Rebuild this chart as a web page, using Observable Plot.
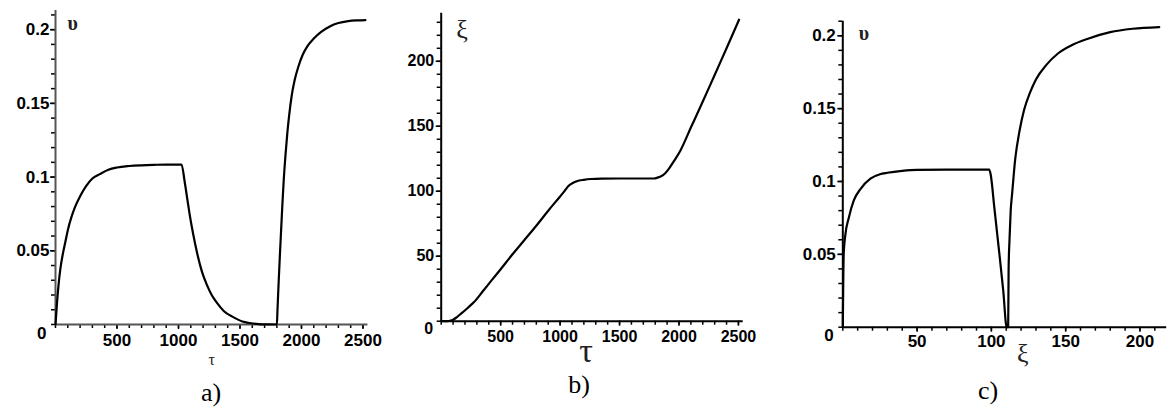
<!DOCTYPE html>
<html>
<head>
<meta charset="utf-8">
<script src="https://cdn.jsdelivr.net/npm/d3@7"></script>
<script src="https://cdn.jsdelivr.net/npm/@observablehq/plot@0.6"></script>
<style>
  html, body { margin: 0; padding: 0; background: #fff; }
  #wrap { position: relative; width: 1172px; height: 407px; overflow: hidden; background: #fff; }
  .panel { position: absolute; top: 0; }
  .cap { position: absolute; font-family: "Liberation Serif", "Times New Roman", serif; font-size: 26px; line-height: 26px; color: #000; transform: translateX(-50%); white-space: nowrap; }
</style>
</head>
<body>
<div id="wrap"></div>
<script>
// ---------- Panel a: υ(τ) ----------
const tauA = [0, 10, 25, 40, 60, 80, 100, 130, 160, 200, 250, 300, 360, 430, 500, 600, 700, 800, 900, 1000, 1025,
  1050, 1070, 1090, 1120, 1150, 1190, 1230, 1270, 1310, 1370, 1445, 1520, 1580, 1650, 1720, 1800,
  1805, 1815, 1825, 1835, 1845, 1855, 1870, 1885, 1900, 1920, 1945, 1975, 2010, 2050, 2100, 2160, 2230, 2300, 2380, 2460, 2520];
const upsA = [0, 0.012, 0.027, 0.038, 0.048, 0.056, 0.064, 0.073, 0.080, 0.087, 0.094, 0.099, 0.102, 0.105, 0.1065, 0.1075, 0.108, 0.1083, 0.1085, 0.1085, 0.1085,
  0.097, 0.086, 0.075, 0.061, 0.049, 0.036, 0.027, 0.020, 0.015, 0.009, 0.005, 0.002, 0.001, 0.0003, 0.0001, 0,
  0.010, 0.030, 0.048, 0.065, 0.082, 0.097, 0.115, 0.130, 0.142, 0.155, 0.166, 0.175, 0.183, 0.189, 0.194, 0.1985, 0.2022, 0.2045, 0.2058, 0.2063, 0.2065];

// ---------- Panel b: ξ(τ) ----------
const tauB = [0, 50, 80, 100, 130, 170, 220, 274, 350, 420, 500, 600, 700, 800, 900, 1000, 1040, 1070, 1100, 1140, 1200, 1260, 1350, 1500, 1650, 1790,
  1820, 1850, 1880, 1920, 1960, 2010, 2100, 2200, 2300, 2400, 2505];
const xiB = [0, 0, 0.5, 1.2, 3, 6, 10, 14.5, 23, 31, 40, 51.5, 62.5, 73.5, 85, 96, 100.5, 104, 106, 107.7, 108.8, 109.4, 109.7, 109.8, 109.8, 109.8,
  110.5, 111.5, 113.5, 118, 123.5, 131, 149, 169, 189.5, 210, 232];

// ---------- Panel c: υ(ξ) ----------
const xiC = [0, 0.3, 0.6, 1.8, 4, 7.4, 12, 18.6, 25, 30, 40, 50, 70, 98.5, 99.5, 102, 105, 108, 110.3, 111.3, 111.6, 112.2, 113, 114, 116, 119, 122, 126, 130, 137, 145, 155, 165, 180, 195, 213];
const upsC = [0, 0.03, 0.05, 0.064, 0.075, 0.087, 0.095, 0.102, 0.105, 0.106, 0.1073, 0.108, 0.1082, 0.1082, 0.105, 0.082, 0.054, 0.025, 0, 0, 0.04, 0.06, 0.08, 0.092, 0.115, 0.135, 0.149, 0.161, 0.17, 0.18, 0.188, 0.194, 0.198, 0.2025, 0.2048, 0.206];

// ---------- Tick labels ----------
const ticksTau = [500, 1000, 1500, 2000, 2500];
const ticksUps = [0.05, 0.1, 0.15, 0.2];
const ticksXi = [50, 100, 150, 200];
const originTick = [0];

// ---------- Axis / panel labels ----------
const labelUps = "υ", labelTau = "τ", labelXi = "ξ";
const captions = ["a)", "b)", "c)"];

const sans = "'Liberation Sans', Arial, sans-serif";
const serif = "'Liberation Serif', 'Times New Roman', serif";
const fmt = d => String(d);

const dataA = tauA.map((t, i) => ({t, v: upsA[i]}));
const dataB = tauB.map((t, i) => ({t, v: xiB[i]}));
const dataC = xiC.map((t, i) => ({t, v: upsC[i]}));

function panel(o) {
  const txt = {fontSize: o.fs, fontWeight: "bold", fontFamily: sans, tickFormat: fmt, label: null};
  return Plot.plot({
    width: o.width, height: o.height,
    marginTop: o.mt, marginRight: o.mr, marginBottom: o.mb, marginLeft: o.ml,
    x: {domain: o.xDomain},
    y: {domain: o.yDomain},
    style: {background: "white", color: "black", overflow: "visible"},
    marks: [
      Plot.axisX({ticks: o.minorX, tickSize: 4, strokeWidth: 1.5, text: null, label: null, stroke: "#000"}),
      Plot.axisX({ticks: o.xTicks, tickSize: 5, strokeWidth: 1.5, tickPadding: o.xPad, stroke: "#000", ...txt}),
      Plot.axisY({ticks: o.minorY, tickSize: 4, strokeWidth: 1.5, text: null, label: null, stroke: "#000"}),
      Plot.axisY({ticks: o.yTicks, tickSize: 5, strokeWidth: 1.5, tickPadding: o.yPad, stroke: "#000", ...txt}),
      Plot.axisY({ticks: originTick, tickSize: 0, tickPadding: o.zeroPad, dy: o.zeroDy, ...txt}),
      Plot.ruleX([0], {stroke: o.axisColor, strokeWidth: 2}),
      Plot.ruleY([0], {stroke: o.axisColor, strokeWidth: 2}),
      Plot.line(o.data, {x: "t", y: "v", stroke: "black", strokeWidth: 2.2, curve: "monotone-x"}),
      Plot.text([o.yLabel], {frameAnchor: "top-left", textAnchor: "start", lineAnchor: "middle",
        dx: o.yl.dx, dy: o.yl.dy, fontFamily: serif, fontSize: o.yl.fs, fontWeight: o.yl.fw || "normal", fill: "#222"}),
      Plot.text([o.xLabel], {frameAnchor: "bottom", textAnchor: "middle", lineAnchor: "middle",
        dx: o.xl.dx, dy: o.xl.dy, fontFamily: serif, fontSize: o.xl.fs, fill: "#222"})
    ]
  });
}

const wrap = document.getElementById("wrap");
function place(node, left) {
  const d = document.createElement("div");
  d.className = "panel";
  d.style.left = left + "px";
  d.appendChild(node);
  wrap.appendChild(d);
}

place(panel({
  data: dataA, width: 390, height: 370, mt: 10, mr: 22.6, mb: 46, ml: 55,
  xDomain: [0, 2540], yDomain: [0, 0.213],
  xTicks: ticksTau, yTicks: ticksUps, minorX: 25, minorY: 21,
  fs: 17, xPad: 4, yPad: 1, zeroPad: 9, zeroDy: 9, axisColor: "#555",
  yLabel: labelUps, yl: {dx: 12, dy: 13, fs: 20, fw: "bold"},
  xLabel: labelTau, xl: {dx: 0, dy: 35, fs: 16}
}), 0);

place(panel({
  data: dataB, width: 390, height: 370, mt: 12.7, mr: 37.3, mb: 49.3, ml: 50.7,
  xDomain: [0, 2540], yDomain: [0, 237],
  xTicks: ticksTau, yTicks: ticksXi, minorX: 25, minorY: 24,
  fs: 16, xPad: 4, yPad: 2, zeroPad: 8, zeroDy: 8, axisColor: "#000",
  yLabel: labelXi, yl: {dx: 15, dy: 16, fs: 26},
  xLabel: labelTau, xl: {dx: -6, dy: 30, fs: 34}
}), 390);

place(panel({
  data: dataC, width: 392, height: 370, mt: 20.7, mr: 5.8, mb: 43.3, ml: 62.3,
  xDomain: [0, 218], yDomain: [0, 0.21],
  xTicks: ticksXi, yTicks: ticksUps, minorX: 22, minorY: 21,
  fs: 17, xPad: 3, yPad: 2, zeroPad: 9, zeroDy: 8, axisColor: "#000",
  yLabel: labelUps, yl: {dx: 16, dy: 12, fs: 20, fw: "bold"},
  xLabel: labelXi, xl: {dx: 18, dy: 26, fs: 26}
}), 780);

const capPos = [[211, 380], [579, 372], [988, 378]];
captions.forEach((c, i) => {
  const d = document.createElement("div");
  d.className = "cap";
  d.textContent = c;
  d.style.left = capPos[i][0] + "px";
  d.style.top = capPos[i][1] + "px";
  wrap.appendChild(d);
});
</script>
</body>
</html>
